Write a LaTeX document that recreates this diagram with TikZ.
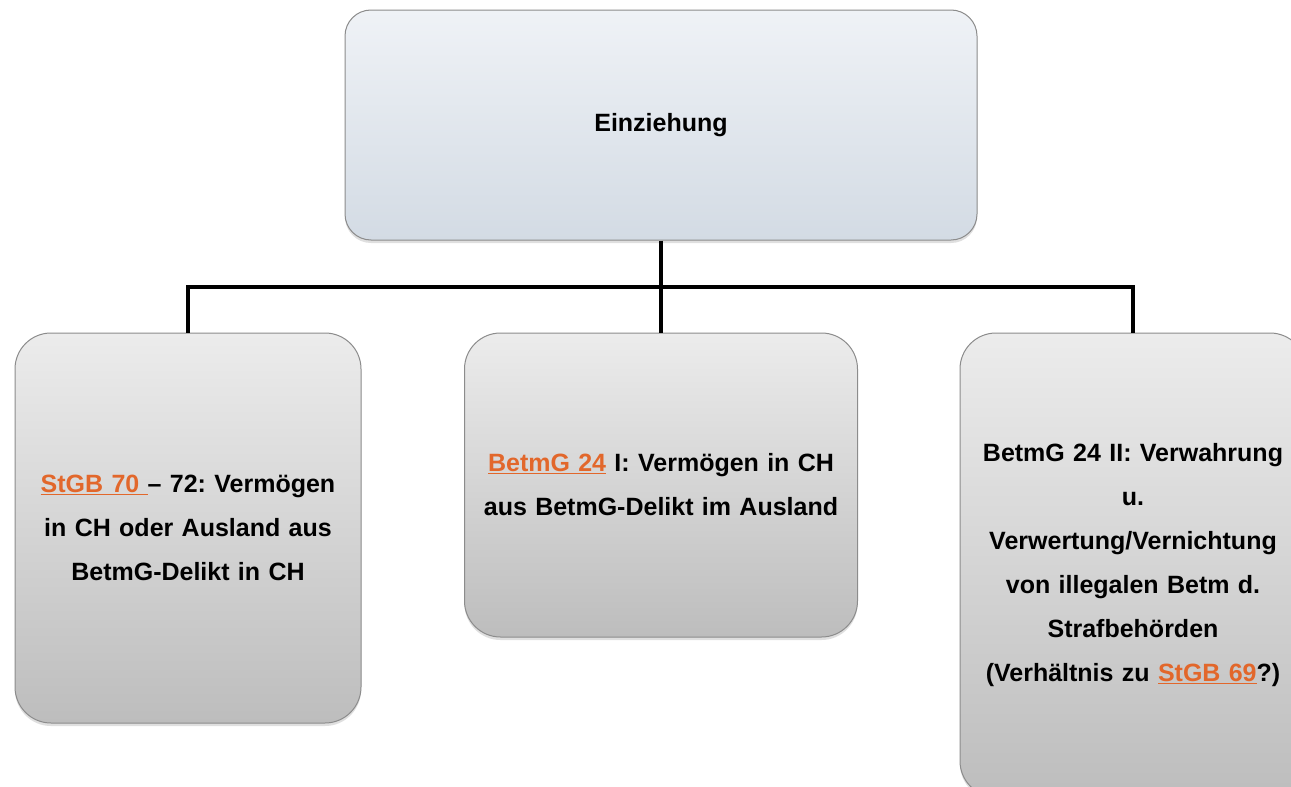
\documentclass[tikz,border=0pt]{standalone}
\usepackage{fontspec}
\setmainfont{Liberation Sans}
\usetikzlibrary{shadows}
\definecolor{lawlink}{HTML}{E2672B}
\definecolor{topbox}{HTML}{EFF2F6}
\definecolor{topboxlow}{HTML}{D3DBE4}
\definecolor{boxhigh}{HTML}{ECECEC}
\definecolor{boxlow}{HTML}{BDBDBD}
\newcommand{\lawref}[1]{{\color{lawlink}\underline{#1}}}
\frenchspacing
\tikzset{
  box/.style={draw=black!45, line width=1pt, align=center, inner sep=0pt,
    font=\fontsize{25}{44}\selectfont\bfseries,
    drop shadow={shadow xshift=0pt, shadow yshift=-3pt, opacity=0.25}},
  headbox/.style={box, rounded corners=26pt, top color=topbox, bottom color=topboxlow},
  subbox/.style={box, rounded corners=36pt, top color=boxhigh, bottom color=boxlow},
  connector/.style={line width=4pt, black}
}
\begin{document}
\begin{tikzpicture}[x=1pt, y=-1pt]
    \useasboundingbox (0,0) rectangle (1291,787);
    \clip (0,0) rectangle (1291,787);
    \fill[white] (0,0) rectangle (1291,787);
    \node[headbox, minimum width=632pt, minimum height=230pt] (einziehung) at (661,125) {Einziehung};
    \node[subbox, minimum width=346pt, minimum height=390pt, text width=320pt] (stgb) at (188,528)
        {\lawref{StGB 70\ }-- 72: Vermögen\\ in CH oder Ausland aus\\ BetmG-Delikt in CH};
    \node[subbox, minimum width=393pt, minimum height=304pt, text width=370pt] (betmgI) at (661,485)
        {\lawref{BetmG 24} I: Vermögen in CH\\ aus BetmG-Delikt im Ausland};
    \node[subbox, minimum width=346pt, minimum height=464pt, text width=320pt] (betmgII) at (1133,565)
        {BetmG 24 II: Verwahrung\\ u.\\ Verwertung/Vernichtung\\ von illegalen Betm d.\\ Strafbehörden\\ (Verhältnis zu \lawref{StGB 69}?)};
    \coordinate (bar) at (0,287);
    \draw[connector] (einziehung.south) -- (betmgI.north);
    \draw[connector] (stgb.north) -- (stgb.north |- bar) -- (betmgII.north |- bar) -- (betmgII.north);
\end{tikzpicture}
\end{document}
